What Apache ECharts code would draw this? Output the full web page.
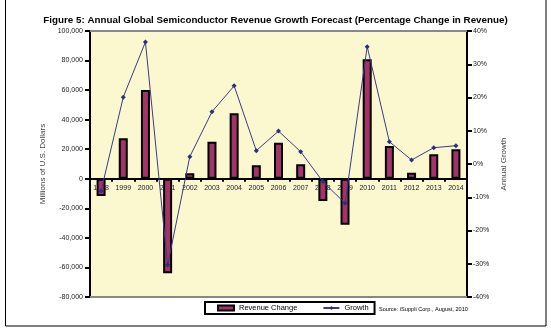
<!DOCTYPE html>
<html><head><meta charset="utf-8">
<script src="https://cdn.jsdelivr.net/npm/echarts@6/dist/echarts.min.js"></script>
<style>html,body{margin:0;padding:0;background:#fff}#c{width:551px;height:331px}</style>
</head><body><div id="c"></div>
<script>
const years = ['1998','1999','2000','2001','2002','2003','2004','2005','2006','2007','2008','2009','2010','2011','2012','2013','2014'];
const revenueChange = [-11600, 27400, 60100, -63900, 3700, 25100, 44300, 9200, 24400, 9800, -15000, -31100, 80900, 22200, 4100, 16600, 20000];
const growthPct = [-8.1, 20.1, 36.7, -30.4, 2.2, 15.7, 23.5, 4.0, 9.9, 3.7, -5.3, -11.8, 35.3, 6.7, 1.2, 4.9, 5.5];
const titleText = 'Figure 5: Annual Global Semiconductor Revenue Growth Forecast (Percentage Change in Revenue)';
const sourceText = 'Source: iSuppli Corp., August, 2010';

const chart = echarts.init(document.getElementById('c'), null, {renderer: 'canvas'});
const F = 'Liberation Sans, Arial, sans-serif';
// grid: top 31, bottom edge 297; zero of left axis lies 100/180 of the way down
const gridTop = 31, gridBottom = 297;
const zeroOffset = -(gridBottom - (gridTop + (gridBottom - gridTop) * 100000 / 180000));
chart.setOption({
  animation: false,
  backgroundColor: '#fff',
  title: {text: titleText, left: 'center', top: 10, textStyle: {fontFamily: F, fontSize: 9.8, fontWeight: 'bold', color: '#000'}},
  grid: {left: 90, right: 84, top: gridTop, bottom: 331 - gridBottom, show: true, backgroundColor: '#FBF7CF', borderWidth: 0},
  legend: {
    left: 205, top: 302, itemGap: 25, padding: [2, 6, 2, 12],
    borderColor: '#000', borderWidth: 2,
    itemWidth: 16, itemHeight: 5,
    textStyle: {fontFamily: F, fontSize: 7.5, color: '#000'},
    data: [{name: 'Revenue Change', icon: 'rect'}, {name: 'Growth'}]
  },
  xAxis: [{
    type: 'category', data: years, position: 'bottom', offset: zeroOffset,
    axisLine: {onZero: false, lineStyle: {color: '#000', width: 2}},
    axisTick: {show: true, length: 3, lineStyle: {color: '#000', width: 2}},
    axisLabel: {fontFamily: F, fontSize: 7, color: '#222', margin: 6},
    splitLine: {show: false}
  }],
  yAxis: [{
    type: 'value', min: -80000, max: 100000, interval: 20000,
    name: 'Millions of U.S. Dollars', nameLocation: 'middle', nameGap: 32,
    nameTextStyle: {fontFamily: F, fontSize: 8, color: '#444'},
    axisLine: {show: true, lineStyle: {color: '#000', width: 2}},
    axisTick: {show: true, length: 5, lineStyle: {color: '#000', width: 2}},
    axisLabel: {fontFamily: F, fontSize: 7, color: '#222', margin: 7,
      formatter: v => v.toLocaleString('en-US')},
    splitLine: {show: false}
  }, {
    type: 'value', min: -40, max: 40, interval: 10, position: 'right',
    name: 'Annual Growth', nameLocation: 'middle', nameGap: 24, nameRotate: 90,
    nameTextStyle: {fontFamily: F, fontSize: 8, color: '#444'},
    axisLine: {show: true, lineStyle: {color: '#000', width: 2}},
    axisTick: {show: true, length: 5, lineStyle: {color: '#000', width: 2}},
    axisLabel: {fontFamily: F, fontSize: 7, color: '#222', margin: 6, formatter: v => v + '%'},
    splitLine: {show: false}
  }],
  series: [{
    name: 'Revenue Change', type: 'bar', yAxisIndex: 0, data: revenueChange,
    barWidth: 9,
    itemStyle: {color: '#A3346A', borderColor: '#000', borderWidth: 2}
  }, {
    name: 'Growth', type: 'line', yAxisIndex: 1, data: growthPct,
    symbol: 'diamond', symbolSize: 5,
    lineStyle: {color: '#3B3B8C', width: 1},
    itemStyle: {color: '#2E2E80'}
  }],
  graphic: [
    {type: 'rect', shape: {x: 5.5, y: -5, width: 540.5, height: 331}, style: {fill: null, stroke: '#000', lineWidth: 1}, silent: true},
    {type: 'line', shape: {x1: 90, y1: 31, x2: 467, y2: 31}, style: {stroke: '#888', lineWidth: 2}, z: 1},
    {type: 'line', shape: {x1: 90, y1: 297, x2: 467, y2: 297}, style: {stroke: '#888', lineWidth: 2}, z: 1},
    {type: 'text', left: 379, top: 306, style: {text: sourceText, fontFamily: F, fontSize: 5.6, fill: '#000'}}
  ]
});
</script></body></html>
